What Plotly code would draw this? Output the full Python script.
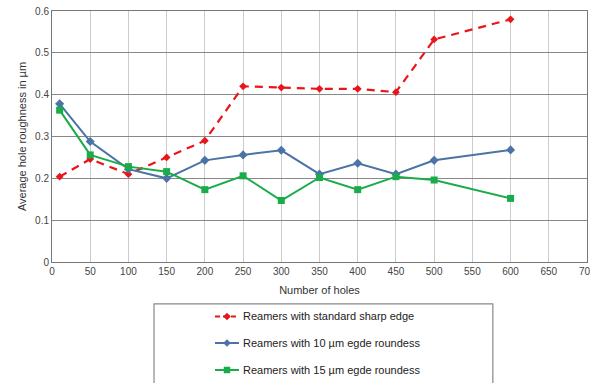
import plotly.graph_objects as go

holes = [10, 50, 100, 150, 200, 250, 300, 350, 400, 450, 500, 600]
sharp = [0.204, 0.246, 0.210, 0.250, 0.290, 0.420, 0.417, 0.414, 0.414, 0.406, 0.532, 0.580]
r10 = [0.378, 0.288, 0.222, 0.200, 0.243, 0.256, 0.267, 0.210, 0.236, 0.210, 0.243, 0.268]
r15 = [0.363, 0.256, 0.228, 0.216, 0.173, 0.206, 0.147, 0.202, 0.173, 0.204, 0.196, 0.152]

names = ["Reamers with standard sharp edge",
         "Reamers with 10 µm egde roundess",
         "Reamers with 15 µm egde roundess"]
colors = ["#e8161b", "#4a73a6", "#1aab4a"]
x_ticks = list(range(0, 701, 50))
x_tick_text = [str(v) for v in x_ticks]
x_tick_text[-1] = ""
y_ticks = [0, 0.1, 0.2, 0.3, 0.4, 0.5, 0.6]
y_tick_text = ["0", "0.1", "0.2", "0.3", "0.4", "0.5", "0.6"]

fig = go.Figure()
fig.add_trace(go.Scatter(x=holes, y=sharp, name=names[0], mode="lines+markers",
                         line=dict(color=colors[0], width=2.2, dash="8px,6px"),
                         marker=dict(symbol="diamond", size=6, color=colors[0]),
                         cliponaxis=False))
fig.add_trace(go.Scatter(x=holes, y=r10, name=names[1], mode="lines+markers",
                         line=dict(color=colors[1], width=2),
                         marker=dict(symbol="diamond", size=7, color=colors[1]),
                         cliponaxis=False))
fig.add_trace(go.Scatter(x=holes, y=r15, name=names[2], mode="lines+markers",
                         line=dict(color=colors[2], width=2),
                         marker=dict(symbol="square", size=7, color=colors[2]),
                         cliponaxis=False))

# last tick label, cut by the figure edge as in the original
fig.add_annotation(x=700, y=0, xref="x", yref="y", text="700", showarrow=False,
                   yanchor="top", yshift=-2, font=dict(size=10, color="#444444"))

# legend box
fig.add_shape(type="rect", xref="paper", yref="paper",
              x0=0.1907, x1=0.824, y0=-0.75, y1=-0.167,
              line=dict(color="#888888", width=1.2), fillcolor="rgba(0,0,0,0)")

# manual legend entries
row_y = [-0.2171, -0.3227, -0.4303]
lx0, lx1, lxm, tx = 0.3047, 0.3495, 0.3271, 0.3533
dashes = ["5px,3px", "solid", "solid"]
for i in range(3):
    fig.add_shape(type="line", xref="paper", yref="paper",
                  x0=lx0, x1=lx1, y0=row_y[i], y1=row_y[i],
                  line=dict(color=colors[i], width=2, dash=dashes[i]))
    if i < 2:
        path = "M0,3.5 L3.5,0 L0,-3.5 L-3.5,0 Z"
    else:
        path = "M-3,-3 L3,-3 L3,3 L-3,3 Z"
    fig.add_shape(type="path", xref="paper", yref="paper",
                  xsizemode="pixel", ysizemode="pixel",
                  xanchor=lxm, yanchor=row_y[i], path=path,
                  fillcolor=colors[i], line=dict(color=colors[i], width=0.5))
    fig.add_annotation(x=tx, y=row_y[i], xref="paper", yref="paper", text=names[i],
                       showarrow=False, xanchor="left", yanchor="middle",
                       font=dict(size=11, color="#222222"))

fig.update_layout(
    width=590, height=383,
    margin=dict(l=52, r=3, t=11, b=121),
    paper_bgcolor="white", plot_bgcolor="white",
    font=dict(family="Liberation Sans, Arial, sans-serif", color="#333333", size=11),
    showlegend=False,
    xaxis=dict(range=[0, 700], tickvals=x_ticks, ticktext=x_tick_text,
               showgrid=True, gridcolor="#cccccc", gridwidth=1,
               showline=True, linecolor="#777777", mirror=True, ticks="",
               zeroline=False, tickfont=dict(size=10, color="#444444"),
               automargin=False,
               title=dict(text="Number of holes", font=dict(size=11, color="#333333"),
                          standoff=10)),
    yaxis=dict(range=[0, 0.6], tickvals=y_ticks, ticktext=y_tick_text,
               showgrid=True, gridcolor="#888888", gridwidth=1,
               showline=True, linecolor="#777777", mirror=True, ticks="",
               zeroline=False, tickfont=dict(size=10, color="#444444"),
               automargin=False,
               title=dict(text="Average hole roughness in µm", font=dict(size=11, color="#333333"),
                          standoff=6)),
)

fig.write_html("out.html", config={"displayModeBar": False},
               post_script="document.body.style.margin='0px';document.body.style.overflow='hidden';")
